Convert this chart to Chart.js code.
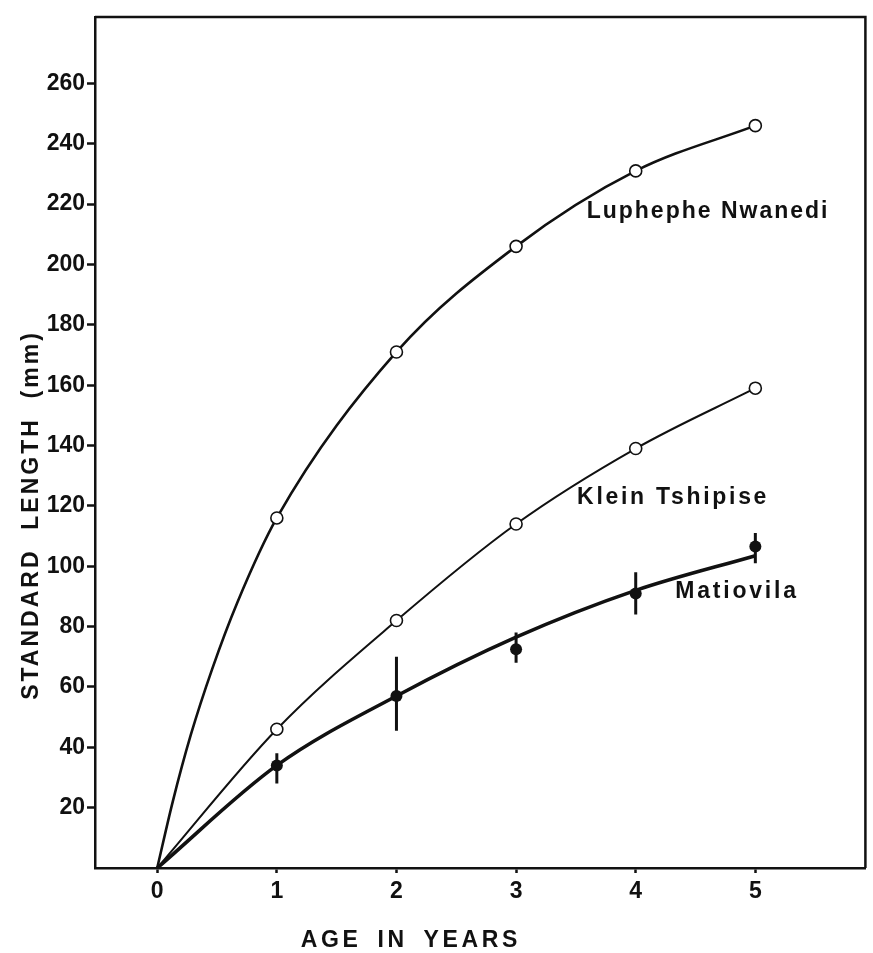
<!DOCTYPE html>
<html><head><meta charset="utf-8">
<script src="https://cdn.jsdelivr.net/npm/chart.js@4"></script>
<style>html,body{margin:0;padding:0;background:#fff}canvas{display:block}</style>
</head><body>
<canvas id="c" width="873" height="953"></canvas>
<script>
// ---- data ----
const ages = [1, 2, 3, 4, 5];
const luphepheNwanedi = [116, 171, 206, 231, 246];
const kleinTshipise = [46, 82, 114, 139, 159];
const matiovila = [34, 57, 72.5, 91, 106.5];
const matiovilaLow = [28, 45.5, 68, 84, 101];
const matiovilaHigh = [38, 70, 78, 98, 111];
// fitted curves
const luphepheCurveX = [0, 0.13, 0.28, 0.46, 0.67, 1, 2, 3, 4, 5];
const luphepheCurveY = [0, 22, 44, 66, 88, 116, 171, 206, 231, 246];
const kleinCurveX = [0, 1, 2, 3, 4, 5];
const kleinCurveY = [0, 46, 82, 114, 139, 159];
const matiovilaCurveX = [0, 1, 2, 3, 4, 5];
const matiovilaCurveY = [0, 34, 57, 76.5, 92, 103.5];
const xTicks = [0, 1, 2, 3, 4, 5];
const yTicks = [20, 40, 60, 80, 100, 120, 140, 160, 180, 200, 220, 240, 260];
const seriesNames = ['Luphephe Nwanedi', 'Klein Tshipise', 'Matiovila'];
const xTitle = 'AGE IN YEARS';
const yTitle = 'STANDARD  LENGTH  (mm)';

const INK = '#111';
const FONT = '"Liberation Sans", Arial, Helvetica, sans-serif';
const zip = (xs, ys) => xs.map((x, i) => ({x, y: ys[i]}));

const datasets = [];
// markers (drawn on top)
datasets.push({label: seriesNames[0], data: zip(ages, luphepheNwanedi), showLine: false,
  pointRadius: 6, pointBorderWidth: 1.6, pointBorderColor: INK, pointBackgroundColor: '#fff', order: 0});
datasets.push({label: seriesNames[1], data: zip(ages, kleinTshipise), showLine: false,
  pointRadius: 6, pointBorderWidth: 1.6, pointBorderColor: INK, pointBackgroundColor: '#fff', order: 0});
datasets.push({label: seriesNames[2], data: zip(ages, matiovila), showLine: false,
  pointRadius: 6, pointBorderWidth: 0, pointBorderColor: INK, pointBackgroundColor: INK, order: 0});
// error bars
ages.forEach((a, i) => {
  datasets.push({label: 'err' + i, data: [{x: a, y: matiovilaLow[i]}, {x: a, y: matiovilaHigh[i]}],
    showLine: true, borderColor: INK, borderWidth: 3, pointRadius: 0, tension: 0, order: 1});
});
// curves
datasets.push({label: 'c0', data: zip(luphepheCurveX, luphepheCurveY), showLine: true, borderColor: INK,
  borderWidth: 2.6, pointRadius: 0, cubicInterpolationMode: 'monotone', order: 2});
datasets.push({label: 'c1', data: zip(kleinCurveX, kleinCurveY), showLine: true, borderColor: INK,
  borderWidth: 2, pointRadius: 0, cubicInterpolationMode: 'monotone', order: 2});
datasets.push({label: 'c2', data: zip(matiovilaCurveX, matiovilaCurveY), showLine: true, borderColor: INK,
  borderWidth: 3.6, pointRadius: 0, cubicInterpolationMode: 'monotone', order: 2});

const decor = {
  id: 'decor',
  afterDatasetsDraw(chart, args, opts) {
    const {ctx, chartArea: ca, scales: {x, y}} = chart;
    ctx.save();
    ctx.fillStyle = INK;
    ctx.font = 'bold 23px ' + FONT;
    ctx.textAlign = 'left';
    ctx.textBaseline = 'alphabetic';
    opts.anchors.forEach((p, i) => {
      ctx.letterSpacing = opts.spacing[i] + 'px';
      ctx.fillText(seriesNames[i], x.getPixelForValue(p[0]), y.getPixelForValue(p[1]));
    });
    // frame top/right
    ctx.strokeStyle = INK;
    ctx.lineWidth = 2.5;
    ctx.beginPath();
    ctx.moveTo(ca.left, ca.top);
    ctx.lineTo(ca.right, ca.top);
    ctx.lineTo(ca.right, ca.bottom);
    ctx.stroke();
    // axis titles
    ctx.letterSpacing = '3.6px';
    ctx.wordSpacing = '6px';
    ctx.textAlign = 'center';
    ctx.fillText(xTitle, x.getPixelForValue(opts.xTitleAt), 947);
    ctx.letterSpacing = '3px';
    ctx.wordSpacing = '0px';
    ctx.translate(32, 515);
    ctx.rotate(-Math.PI / 2);
    ctx.textBaseline = 'middle';
    ctx.fillText(yTitle, 0, 0);
    ctx.restore();
  }
};

new Chart(document.getElementById('c'), {
  type: 'scatter',
  data: {datasets},
  options: {
    responsive: false,
    devicePixelRatio: 1,
    animation: false,
    layout: {padding: {top: 17, right: -2, left: 0, bottom: 0}},
    plugins: {
      legend: {display: false},
      tooltip: {enabled: false},
      decor: {anchors: [[3.59, 215.5], [3.51, 120.6], [4.33, 89.5]], spacing: [2, 2.7, 2.8], xTitleAt: 2.12}
    },
    scales: {
      x: {
        type: 'linear', min: -0.52, max: 5.92,
        afterBuildTicks: s => { s.ticks = xTicks.map(v => ({value: v})); },
        afterFit: s => { s.height = 85; s.paddingLeft = 0; s.paddingRight = 0; },
        grid: {drawOnChartArea: false, drawTicks: true, tickLength: 5, tickWidth: 2.5, tickColor: INK},
        border: {display: true, color: INK, width: 2.5},
        ticks: {color: INK, padding: 5, font: {family: FONT, size: 23, weight: 'bold'}, maxRotation: 0}
      },
      y: {
        type: 'linear', min: 0, max: 282,
        afterBuildTicks: s => { s.ticks = yTicks.map(v => ({value: v})); },
        afterFit: s => { s.width = 95; s.paddingLeft = 0; s.paddingRight = 0; },
        grid: {drawOnChartArea: false, drawTicks: true, tickLength: 8, tickWidth: 2.5, tickColor: INK},
        border: {display: true, color: INK, width: 2.5},
        ticks: {color: INK, padding: 2, font: {family: FONT, size: 23, weight: 'bold'}}
      }
    }
  },
  plugins: [decor]
});
</script>
</body></html>
